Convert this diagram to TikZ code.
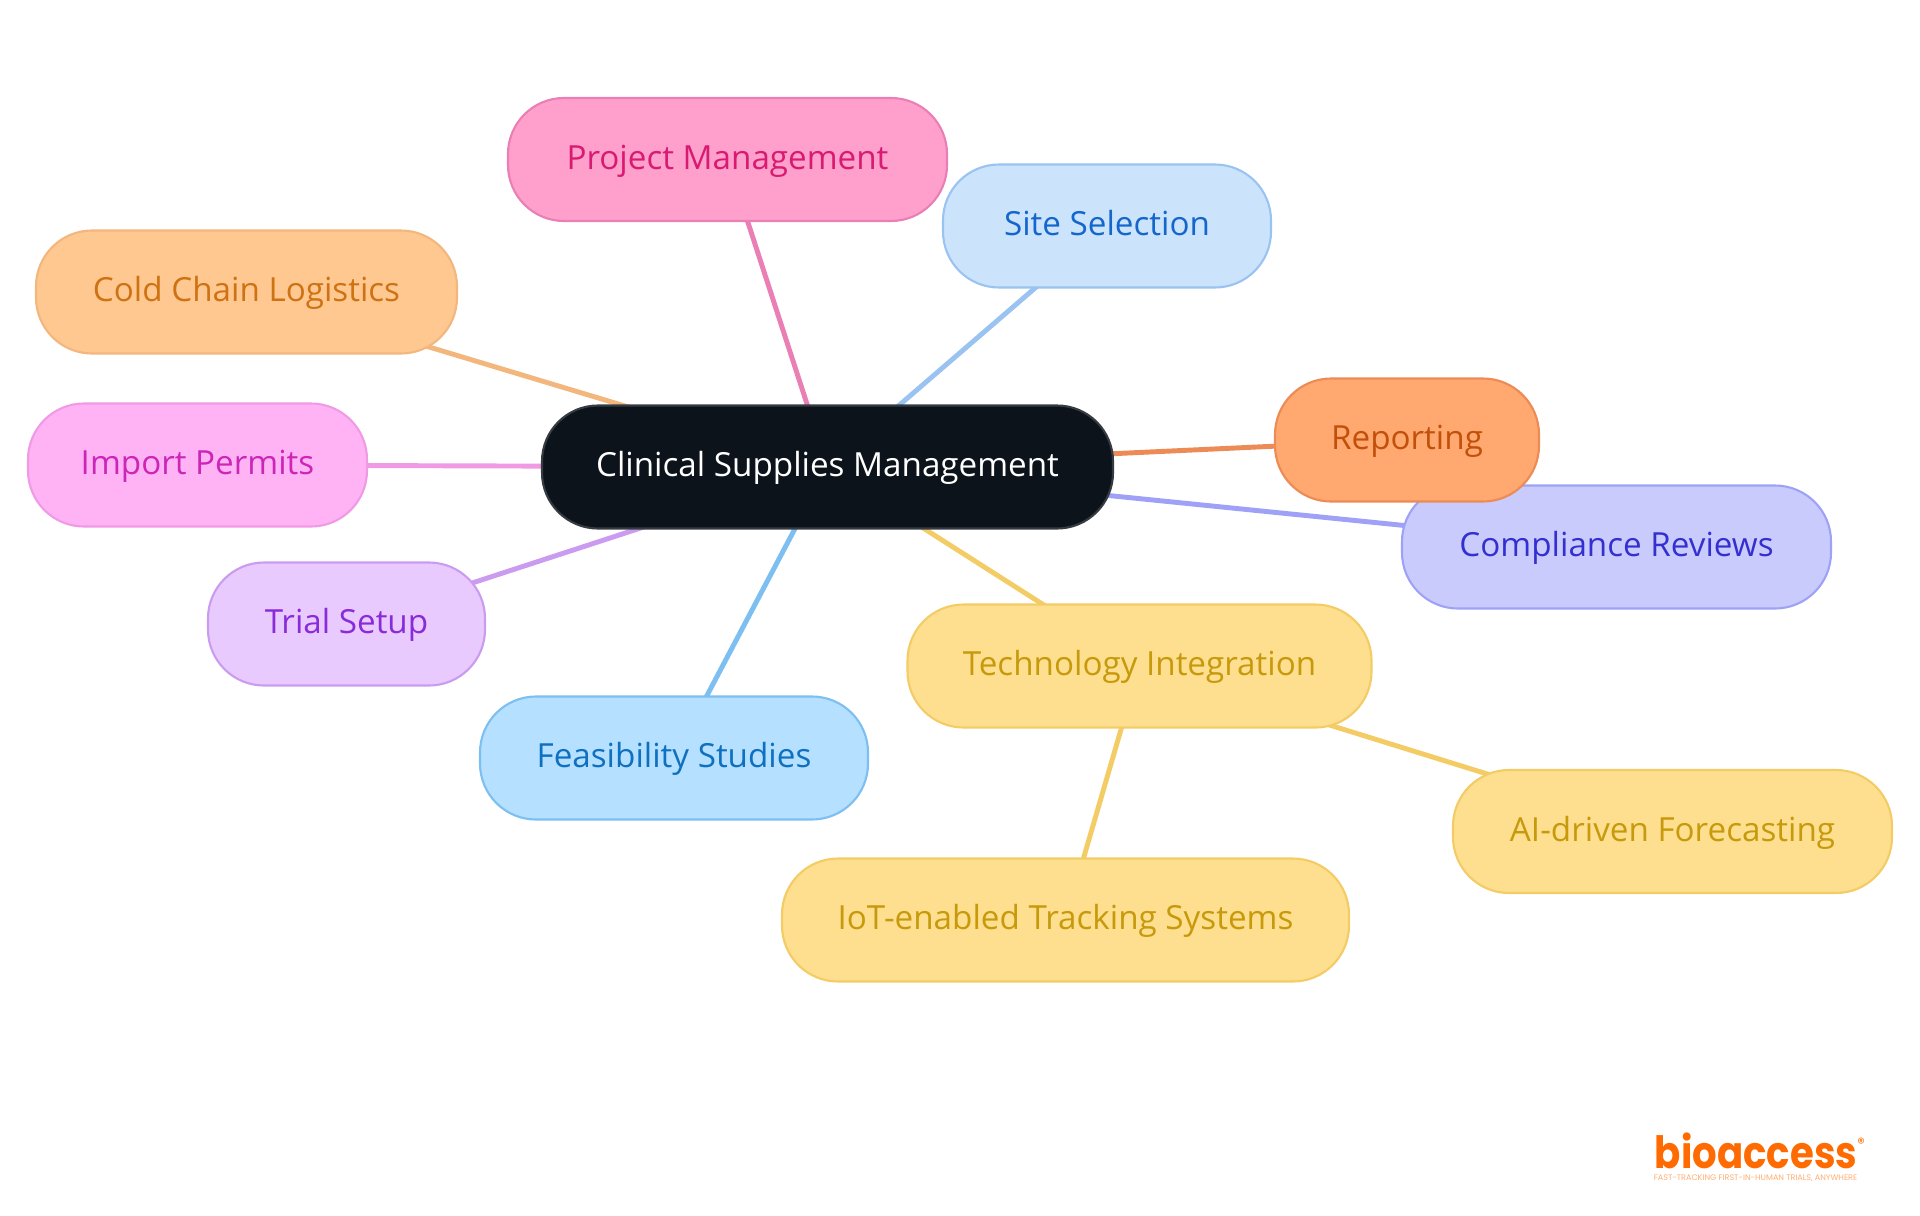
\documentclass[tikz,border=0pt]{standalone}
\usepackage{fontspec}
\setmainfont{Open Sans}
\newfontfamily\logofont{Poppins}
\usetikzlibrary{backgrounds}

\definecolor{mainfill}{HTML}{0D131B}
\definecolor{mainline}{HTML}{363B42}
\definecolor{projfill}{HTML}{FF9FCB}
\definecolor{projline}{HTML}{E97FB4}
\definecolor{projtext}{HTML}{D81B72}
\definecolor{sitefill}{HTML}{CCE3FC}
\definecolor{siteline}{HTML}{9AC3F2}
\definecolor{sitetext}{HTML}{1366CC}
\definecolor{coldfill}{HTML}{FFC891}
\definecolor{coldline}{HTML}{F3B77E}
\definecolor{coldtext}{HTML}{CF7214}
\definecolor{permfill}{HTML}{FFB3F5}
\definecolor{permline}{HTML}{F09AE6}
\definecolor{permtext}{HTML}{CB26B8}
\definecolor{trialfill}{HTML}{E9CAFF}
\definecolor{trialline}{HTML}{CB9BEF}
\definecolor{trialtext}{HTML}{8A2BD9}
\definecolor{feasfill}{HTML}{B5E0FF}
\definecolor{feasline}{HTML}{7CBFF0}
\definecolor{feastext}{HTML}{0F70C0}
\definecolor{techfill}{HTML}{FEDE8F}
\definecolor{techline}{HTML}{F3CC66}
\definecolor{techtext}{HTML}{C79A0C}
\definecolor{repfill}{HTML}{FFA870}
\definecolor{repline}{HTML}{EC8B55}
\definecolor{reptext}{HTML}{C2500A}
\definecolor{compfill}{HTML}{CACBFD}
\definecolor{compline}{HTML}{9EA1F5}
\definecolor{comptext}{HTML}{3430D0}
\definecolor{logoorange}{HTML}{FF6B00}

\tikzset{
  topic/.style={rounded corners=0.56cm, minimum height=1.23cm, inner sep=0pt,
    text height=0.27cm, text depth=0.076cm,
    line width=0.6pt, font=\fontsize{9.45}{11}\selectfont,
    fill=#1fill, draw=#1line, text=#1text},
  link/.style={line width=1.4pt, draw=#1line}
}

\begin{document}
\begin{tikzpicture}
\useasboundingbox (0,0) rectangle (19.2,-12.15);

\node[topic=main, text=white, minimum width=5.71cm] (main) at (8.275,-4.67) {Clinical Supplies Management};

\foreach \name/\x/\y/\w/\col/\txt in {
  compliance/16.165/-5.47/4.29/comp/Compliance Reviews,
  project/7.275/-1.595/4.39/proj/Project Management,
  site/11.07/-2.26/3.28/site/Site Selection,
  cold/2.465/-2.92/4.21/cold/Cold Chain Logistics,
  permits/1.975/-4.65/3.39/perm/Import Permits,
  setup/3.465/-6.24/2.77/trial/Trial Setup,
  feasibility/6.74/-7.58/3.88/feas/Feasibility Studies,
  tech/11.395/-6.66/4.64/tech/Technology Integration,
  forecast/16.725/-8.315/4.39/tech/AI-driven Forecasting,
  tracking/10.655/-9.2/5.67/tech/IoT-enabled Tracking Systems,
  reporting/14.07/-4.4/2.64/rep/Reporting}
  \node[topic=\col, minimum width=\w cm] (\name) at (\x,\y) {\txt};

% links go behind the boxes
\begin{scope}[on background layer]
\foreach \to/\col in {project/proj, site/site, cold/cold, permits/perm, setup/trial,
                      feasibility/feas, tech/tech, reporting/rep, compliance/comp}
  \draw[link=\col] (main.center) -- (\to.center);
\foreach \to in {forecast, tracking}
  \draw[link=tech] (tech.center) -- (\to.center);
\end{scope}

% logo
\node[logoorange, font=\logofont\bfseries\fontsize{11}{12}\selectfont, inner sep=0pt, anchor=base, yscale=1.15, transform shape] (logo) at (17.56,-11.68) {bioaccess};
\node[logoorange, font=\logofont\fontsize{4.2}{5}\selectfont, inner sep=0pt] (reg) at (18.61,-11.43) {®};
\node[logoorange!55, font=\logofont\fontsize{2.29}{3}\selectfont, inner sep=0pt] (tagline) at (17.555,-11.785) {FAST-TRACKING FIRST-IN-HUMAN TRIALS, ANYWHERE};
\end{tikzpicture}
\end{document}
